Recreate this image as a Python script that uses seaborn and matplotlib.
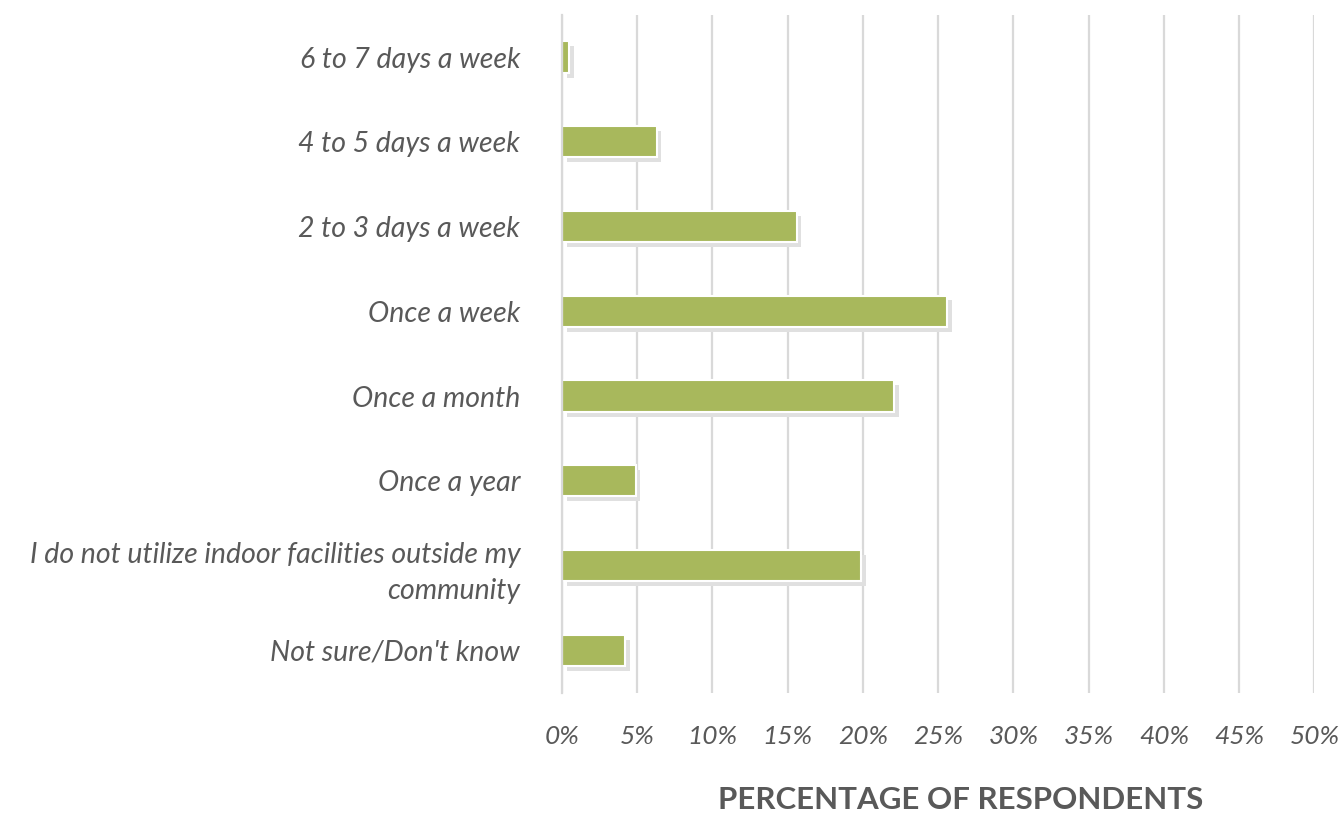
import pandas as pd
import seaborn as sns
import matplotlib.pyplot as plt
import matplotlib.patheffects as pe
from matplotlib.ticker import MultipleLocator, FuncFormatter

categories = [
    "6 to 7 days a week",
    "4 to 5 days a week",
    "2 to 3 days a week",
    "Once a week",
    "Once a month",
    "Once a year",
    "I do not utilize indoor facilities outside my\ncommunity",
    "Not sure/Don't know",
]
percent = [0.5, 6.3, 15.6, 25.6, 22.1, 4.9, 19.9, 4.2]

df = pd.DataFrame({"freq": categories, "pct": percent})

sns.set_theme(style="white")
plt.rcParams["font.family"] = ["Lato", "DejaVu Sans"]

text_col = "#595959"
fig, ax = plt.subplots(figsize=(13.44, 8.14), dpi=100)
fig.subplots_adjust(left=0.418, right=0.978, top=0.982, bottom=0.149)

sns.barplot(data=df, x="pct", y="freq", orient="h", color="#a8b85c",
            width=0.37, edgecolor="white", linewidth=1.5, saturation=1, ax=ax)
for bar in ax.patches:
    bar.set_path_effects([
        pe.SimplePatchShadow(offset=(3.5, -3.5), shadow_rgbFace="#e0e0e0", alpha=1),
        pe.Normal(),
    ])

ax.set_xlim(0, 50)
ax.xaxis.set_major_locator(MultipleLocator(5))
ax.xaxis.set_major_formatter(FuncFormatter(lambda v, p: f"{v:.0f}%"))
ax.grid(axis="x", color="#d9d9d9", linewidth=1.6)
ax.set_axisbelow(True)
for s in ["top", "right", "bottom"]:
    ax.spines[s].set_visible(False)
ax.spines["left"].set_color("#d9d9d9")
ax.spines["left"].set_linewidth(1.6)

ax.tick_params(axis="x", length=0, pad=23, labelsize=19, labelcolor=text_col)
ax.tick_params(axis="y", length=0, pad=30, labelsize=20.5, labelcolor=text_col)
for lab in ax.get_xticklabels() + ax.get_yticklabels():
    lab.set_fontstyle("italic")
for lab in ax.get_yticklabels():
    lab.set_linespacing(1.45)

ax.set_ylabel("")
ax.set_xlabel("PERCENTAGE OF RESPONDENTS", fontsize=22.5, fontweight="bold",
              color=text_col)
ax.xaxis.set_label_coords(0.53, -0.137)
ax.xaxis.label.set_va("top")

fig.savefig("out.png")
